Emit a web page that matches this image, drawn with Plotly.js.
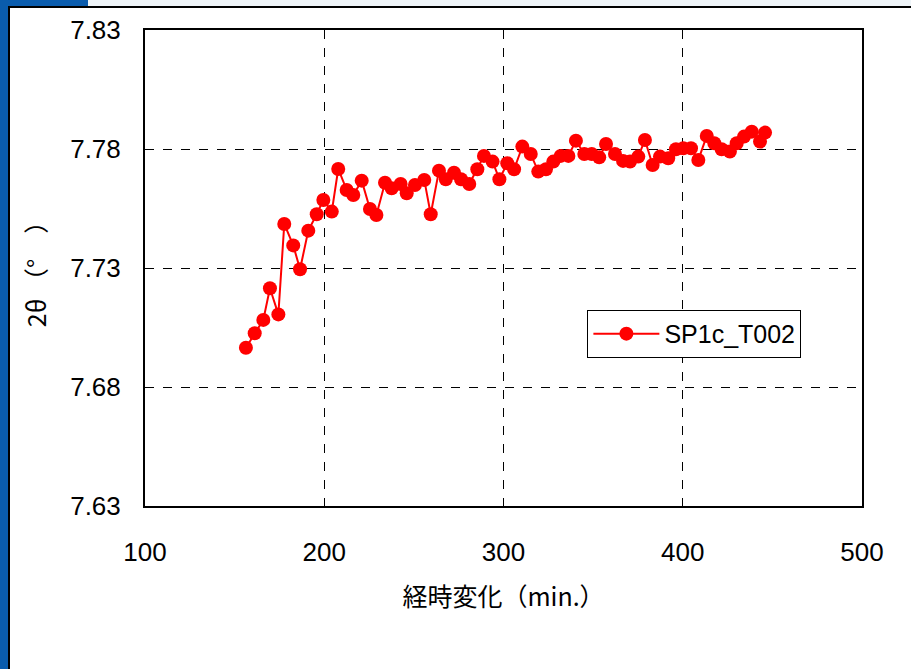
<!DOCTYPE html>
<html>
<head>
<meta charset="utf-8">
<script src="https://cdn.plot.ly/plotly-3.0.1.min.js"></script>
<style>
  html, body { margin: 0; padding: 0; background: #ffffff; }
  #wrap { position: relative; width: 911px; height: 669px; overflow: hidden; background: #ffffff; }
  #chart { position: absolute; left: 0; top: 0; width: 911px; height: 669px; }
  .deco { position: absolute; pointer-events: none; }
</style>
</head>
<body>
<div id="wrap">
  <div id="chart"></div>
  <div class="deco" style="left:0;top:0;width:8px;height:669px;background:#0a5cad;"></div>
  <div class="deco" style="left:0;top:0;width:88px;height:6px;background:#0a5cad;"></div>
  <div class="deco" style="left:88px;top:0;width:823px;height:6px;background:#eef4f8;"></div>
  <div class="deco" style="left:8px;top:6px;width:903px;height:2px;background:#000;"></div>
  <div class="deco" style="left:8px;top:6px;width:2px;height:663px;background:#000;"></div>
</div>
<script>
const seriesName = "SP1c_T002";
const timeMin = [156.3,161.2,166.0,169.7,174.4,177.7,182.7,186.5,191.1,195.8,199.5,204.2,207.8,212.5,216.2,220.9,225.5,229.1,233.9,237.6,242.6,246.0,250.6,255.8,259.4,264.0,267.8,272.4,276.3,280.9,285.4,289.1,293.9,297.7,302.1,305.9,310.5,315.2,319.4,323.7,327.8,331.9,336.2,340.4,345.1,349.2,353.4,357.2,362.2,366.7,370.6,375.2,378.9,383.2,387.3,391.9,396.2,400.3,404.6,408.7,413.4,417.6,421.7,426.3,430.1,434.2,438.5,443.1,445.9];
const twoTheta = [7.6965,7.7026,7.7082,7.7215,7.7105,7.7485,7.7395,7.7295,7.7457,7.7526,7.7586,7.7537,7.7716,7.7628,7.7607,7.7667,7.7548,7.7523,7.7658,7.7635,7.7653,7.7614,7.7649,7.7670,7.7526,7.7709,7.7673,7.7700,7.7673,7.7653,7.7715,7.7771,7.7747,7.7673,7.7740,7.7715,7.7810,7.7779,7.7705,7.7715,7.7747,7.7771,7.7771,7.7835,7.7779,7.7779,7.7765,7.7821,7.7779,7.7750,7.7747,7.7768,7.7838,7.7733,7.7768,7.7761,7.7799,7.7803,7.7803,7.7754,7.7855,7.7824,7.7799,7.7789,7.7824,7.7852,7.7873,7.7831,7.7869];
const xTitle = "経時変化（min.）";
const yTitle = "2θ （°　）";

const numFont = "Liberation Sans, Arial, sans-serif";
const jpFont = "Noto Sans CJK JP, sans-serif";

const trace = {
  x: timeMin, y: twoTheta, name: seriesName,
  type: "scatter", mode: "lines+markers",
  line: { color: "#ff0000", width: 2 },
  marker: { color: "#ff0000", size: 14, symbol: "circle" }
};

const layout = {
  width: 911, height: 669,
  margin: { l: 145, r: 49, t: 30, b: 163 },
  paper_bgcolor: "rgba(0,0,0,0)",
  plot_bgcolor: "#ffffff",
  showlegend: true,
  legend: {
    x: 0.617, y: 0.412, xanchor: "left", yanchor: "top",
    bgcolor: "#ffffff", bordercolor: "#000000", borderwidth: 1,
    font: { family: numFont, size: 25, color: "#000" },
    itemwidth: 66
  },
  xaxis: {
    range: [100, 500], dtick: 100, tick0: 100,
    showline: true, linecolor: "#000", linewidth: 2, mirror: true,
    showgrid: true, gridcolor: "#000", griddash: "dash", gridwidth: 1,
    zeroline: false, ticks: "", ticklabelstandoff: 22,
    tickfont: { family: numFont, size: 26, color: "#000" },
    title: { text: "\u2002" + xTitle, font: { family: jpFont, size: 25, color: "#000" }, standoff: 22 }
  },
  yaxis: {
    range: [7.63, 7.83], dtick: 0.05, tick0: 7.63, tickformat: ".2f",
    showline: true, linecolor: "#000", linewidth: 2, mirror: true,
    showgrid: true, gridcolor: "#000", griddash: "dash", gridwidth: 1,
    zeroline: false, ticks: "", ticklabelstandoff: 17,
    tickfont: { family: numFont, size: 26, color: "#000" },
    title: { text: yTitle, font: { family: jpFont, size: 25, color: "#000" }, standoff: 16 }
  }
};

Plotly.newPlot("chart", [trace], layout, { displayModeBar: false, staticPlot: true });
</script>
</body>
</html>
